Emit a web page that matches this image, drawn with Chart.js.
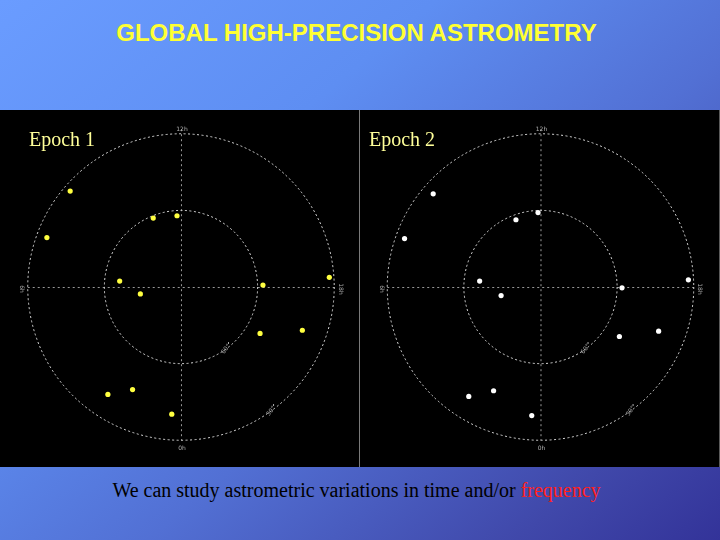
<!DOCTYPE html>
<html><head><meta charset="utf-8">
<script src="https://cdn.jsdelivr.net/npm/chart.js@4"></script>
<style>
html,body{margin:0;padding:0;width:720px;height:540px;overflow:hidden;}
body{position:relative;background:linear-gradient(140deg,#6a9cff 0%,#5e8ef2 32%,#5270d4 58%,#4048aa 85%,#333399 100%);font-family:"Liberation Sans",Arial,sans-serif;}
#title{position:absolute;left:0;width:713px;top:19px;text-align:center;color:#ffff33;font-weight:bold;font-size:24px;}
#panel{position:absolute;left:0;top:110px;width:720px;height:357px;background:#000;}
#div{position:absolute;left:359px;top:110px;width:1px;height:357px;background:#7a7a7a;}
#edge{position:absolute;left:719px;top:110px;width:1px;height:357px;background:#5a5a5a;}
.cv{position:absolute;top:110px;height:357px;width:359px;}
#cap{position:absolute;left:0;width:713px;top:479px;text-align:center;font-family:"Liberation Serif","Times New Roman",serif;font-size:20px;color:#000;}
#cap span{color:#ff2020;}
</style></head><body>
<div id="title">GLOBAL HIGH-PRECISION ASTROMETRY</div>
<div id="panel"></div>
<div class="cv" id="w1" style="left:0"><canvas id="c1" width="359" height="357"></canvas></div>
<div class="cv" id="w2" style="left:360px"><canvas id="c2" width="359" height="357"></canvas></div>
<div id="div"></div><div id="edge"></div>
<div id="cap">We can study astrometric variations in time and/or <span>frequency</span></div>
<script>
// Normalized sky positions (outer circle radius = 1)
const epochTitles = ["Epoch 1", "Epoch 2"];
const epoch1X = [-0.723,-0.875,-0.181,-0.026,-0.400,-0.265,0.535,0.968,0.516,0.792,-0.477,-0.316,-0.060];
const epoch1Y = [0.626,0.323,0.450,0.465,0.039,-0.045,0.013,0.063,-0.303,-0.282,-0.701,-0.669,-0.830];
const epoch2X = [-0.700,-0.887,-0.160,-0.016,-0.397,-0.257,0.532,0.965,0.515,0.771,-0.468,-0.306,-0.057];
const epoch2Y = [0.608,0.316,0.439,0.486,0.039,-0.056,-0.005,0.047,-0.323,-0.288,-0.714,-0.677,-0.839];
const hourLabels = ["12h","18h","0h","6h"];
const ringRadii = [1, 0.5];
const ringLabels = ["30°","60°"];

const skyPlugin = {
  id:'sky',
  beforeDatasetsDraw(chart, args, opts){
    const {ctx, scales:{x,y}} = chart;
    const cx = x.getPixelForValue(0), cy = y.getPixelForValue(0);
    ctx.save();
    ctx.strokeStyle = '#9a9a9a'; ctx.lineWidth = 1; ctx.setLineDash([2,3]);
    ctx.beginPath();
    ctx.moveTo(x.getPixelForValue(-1), cy+0.5); ctx.lineTo(x.getPixelForValue(1), cy+0.5);
    ctx.moveTo(cx+0.5, y.getPixelForValue(1.03)); ctx.lineTo(cx+0.5, y.getPixelForValue(-1));
    ctx.stroke();
    ctx.strokeStyle = '#d8d8d8'; ctx.setLineDash([2,2.5]);
    ringRadii.forEach(r=>{
      const pr = x.getPixelForValue(r) - cx;
      ctx.beginPath(); ctx.arc(cx, cy, pr, 0, Math.PI*2); ctx.stroke();
    });
    ctx.setLineDash([]);
    ctx.fillStyle = '#b0b0b0'; ctx.font = '6px "DejaVu Sans"'; ctx.textAlign='center'; ctx.textBaseline='middle';
    const R = x.getPixelForValue(1) - cx;
    ctx.fillText(hourLabels[0], cx+1, cy - R - 4);
    ctx.fillText(hourLabels[2], cx+1, cy + R + 8);
    ctx.save(); ctx.translate(cx + R + 6, cy + 2); ctx.rotate(Math.PI/2); ctx.fillText(hourLabels[1],0,0); ctx.restore();
    ctx.save(); ctx.translate(cx - R - 6, cy + 2); ctx.rotate(Math.PI/2); ctx.fillText(hourLabels[3],0,0); ctx.restore();
    const ang = Math.PI*0.3;
    ringRadii.forEach((r,i)=>{
      const pr = x.getPixelForValue(r) - cx;
      const lx = cx + pr*Math.cos(ang), ly = cy + pr*Math.sin(ang);
      ctx.save(); ctx.translate(lx, ly); ctx.rotate(-Math.PI/2+ang-0.3);
      ctx.fillText(ringLabels[i],0,0); ctx.restore();
      ctx.fillRect(lx+2, ly-7, 1, 2);
    });
    ctx.fillStyle = '#ffff99'; ctx.font = '20px "Liberation Serif"'; ctx.textAlign='left'; ctx.textBaseline='alphabetic';
    ctx.fillText(opts.label, opts.lx, 36);
    ctx.restore();
  }
};

function makeChart(id, xs, ys, color, label, lx, cxPix){
  const R = 155.5, W = 359, H = 357, cyPix = 177;
  const pts = xs.map((v,i)=>({x:v, y:ys[i]}));
  new Chart(document.getElementById(id), {
    type:'scatter',
    data:{datasets:[{data:pts, backgroundColor:color, borderColor:color, pointRadius:2.6, pointHoverRadius:2.6, borderWidth:0}]},
    options:{
      responsive:false, animation:false, events:[],
      layout:{padding:0},
      scales:{
        x:{display:false, min:-cxPix/R, max:(W-cxPix)/R},
        y:{display:false, min:-(H-cyPix)/R, max:cyPix/R}
      },
      plugins:{legend:{display:false}, tooltip:{enabled:false}, sky:{label, lx}}
    },
    plugins:[skyPlugin]
  });
}
makeChart('c1', epoch1X, epoch1Y, '#ffff40', epochTitles[0], 29, 181);
makeChart('c2', epoch2X, epoch2Y, '#ffffff', epochTitles[1], 9, 180.5);
</script>
</body></html>
